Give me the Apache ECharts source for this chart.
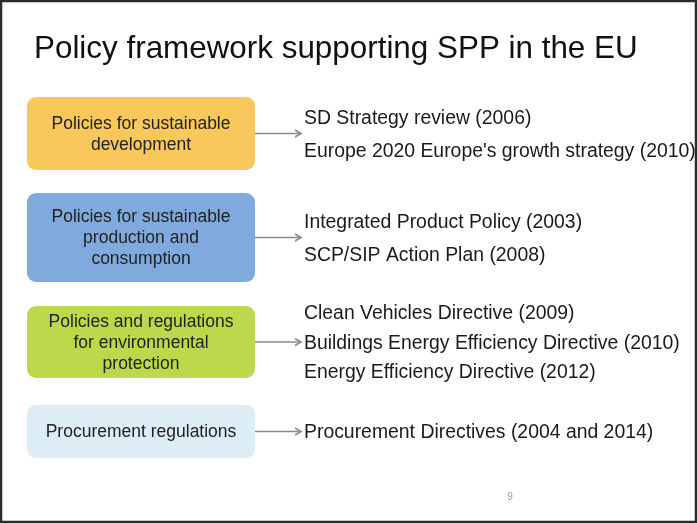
<!DOCTYPE html>
<html>
<head>
<meta charset="utf-8">
<script src="https://cdn.jsdelivr.net/npm/echarts@6/dist/echarts.min.js"></script>
<style>
  html, body { margin: 0; padding: 0; background: #fff; }
  #main { width: 697px; height: 523px; }
</style>
</head>
<body>
<div id="main"></div>
<script>
// slide content
var title = 'Policy framework supporting SPP in the EU';
var groups = [
  'Policies for sustainable\ndevelopment',
  'Policies for sustainable\nproduction and\nconsumption',
  'Policies and regulations\nfor environmental\nprotection',
  'Procurement regulations'
];
var instruments = [
  ['SD Strategy review (2006)', "Europe 2020 Europe's growth strategy (2010)"],
  ['Integrated Product Policy (2003)', 'SCP/SIP Action Plan (2008)'],
  ['Clean Vehicles Directive (2009)', 'Buildings Energy Efficiency Directive (2010)', 'Energy Efficiency Directive (2012)'],
  ['Procurement Directives (2004 and 2014)']
];
var pageNo = '9';

// look
var boxColors = ['#f9c85c', '#80a9dd', '#bdd94b', '#dcedf5'];
var boxTop = [97, 193, 306, 405];
var boxHeight = [73, 89, 72, 53];
var boxLeft = 27, boxWidth = 228;
var arrowEnd = 301, textLeft = 304;
var font = '"Liberation Sans", Arial, sans-serif';

var elements = [];

elements.push({
  type: 'rect',
  shape: { x: 1, y: 1, width: 695, height: 521 },
  style: { fill: '#fff', stroke: '#2b2b2b', lineWidth: 2.5 }
});

elements.push({
  type: 'text',
  x: 34, y: 49,
  style: { text: title, font: '31.4px ' + font, fill: '#111', textVerticalAlign: 'middle' }
});

groups.forEach(function (label, i) {
  var cy = boxTop[i] + boxHeight[i] / 2;
  elements.push({
    type: 'rect',
    shape: { x: boxLeft, y: boxTop[i], width: boxWidth, height: boxHeight[i], r: 9 },
    style: { fill: boxColors[i] }
  });
  elements.push({
    type: 'text',
    x: boxLeft + boxWidth / 2, y: cy + 1,
    style: {
      text: label, font: '17.5px ' + font, fill: '#222', lineHeight: 21,
      textAlign: 'center', textVerticalAlign: 'middle'
    }
  });
  elements.push({
    type: 'line',
    shape: { x1: boxLeft + boxWidth, y1: cy, x2: arrowEnd, y2: cy },
    style: { stroke: '#8a8a8a', lineWidth: 1.6 }
  });
  elements.push({
    type: 'polyline',
    shape: { points: [[arrowEnd - 6, cy - 3.5], [arrowEnd, cy], [arrowEnd - 6, cy + 3.5]] },
    style: { stroke: '#8a8a8a', lineWidth: 1.6, fill: null }
  });
  var items = instruments[i];
  var gap = items.length === 3 ? 29.5 : 33;
  items.forEach(function (t, k) {
    elements.push({
      type: 'text',
      x: textLeft,
      y: cy + 1.5 + (k - (items.length - 1) / 2) * gap,
      style: { text: t, font: '19.4px ' + font, fill: '#1a1a1a', textVerticalAlign: 'middle' }
    });
  });
});

elements.push({
  type: 'text',
  x: 510, y: 497,
  style: { text: pageNo, font: '10px ' + font, fill: '#9a9a9a', textAlign: 'center', textVerticalAlign: 'middle' }
});

var chart = echarts.init(document.getElementById('main'), null, { renderer: 'canvas' });
chart.setOption({
  backgroundColor: '#fff',
  animation: false,
  graphic: { elements: elements }
});
</script>
</body>
</html>
